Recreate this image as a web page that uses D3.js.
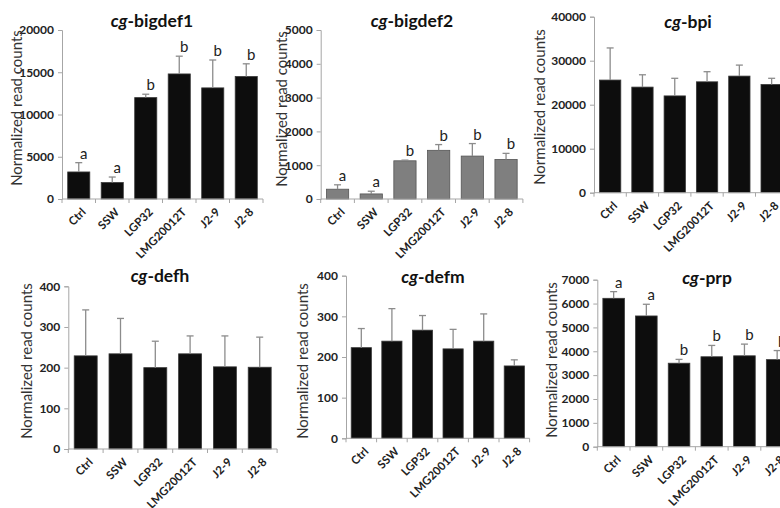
<!DOCTYPE html>
<html><head><meta charset="utf-8">
<script src="https://cdn.jsdelivr.net/npm/d3@7"></script>
<style>
html,body{margin:0;padding:0;background:#fff;}
svg{display:block;}
text{font-family:Lato,"Open Sans",sans-serif;}
</style></head>
<body>
<svg id="chart" width="780" height="508"></svg>
<script>
// ---- data ----
const categories = ["Ctrl","SSW","LGP32","LMG20012T","J2-9","J2-8"];

const bigdef1Values = [3200, 1950, 12000, 14800, 13150, 14500];
const bigdef1Errors = [1100, 650, 400, 2100, 3300, 1500];
const bigdef1Letters = ["a","a","b","b","b","b"];
const bigdef1Ticks = [0, 5000, 10000, 15000, 20000];

const bigdef2Values = [290, 150, 1130, 1440, 1270, 1170];
const bigdef2Errors = [130, 80, 20, 170, 370, 180];
const bigdef2Letters = ["a","a","b","b","b","b"];
const bigdef2Ticks = [0, 1000, 2000, 3000, 4000, 5000];

const bpiValues = [25600, 24000, 22000, 25200, 26500, 24600];
const bpiErrors = [7300, 2800, 4000, 2300, 2500, 1400];
const bpiTicks = [0, 10000, 20000, 30000, 40000];

const defhValues = [229, 234, 200, 234, 202, 201];
const defhErrors = [113, 87, 65, 44, 76, 74];
const defhTicks = [0, 100, 200, 300, 400];

const defmValues = [223, 239, 266, 220, 239, 178];
const defmErrors = [47, 80, 36, 48, 67, 15];
const defmTicks = [0, 100, 200, 300, 400];

const prpValues = [6220, 5480, 3500, 3770, 3810, 3650];
const prpErrors = [280, 490, 160, 475, 490, 380];
const prpLetters = ["a","a","b","b","b","b"];
const prpTicks = [0, 1000, 2000, 3000, 4000, 5000, 6000, 7000];

const yTitle = "Normalized read counts";

// ---- panels (layout) ----
const panels = [
  {gene:"bigdef1", values:bigdef1Values, errors:bigdef1Errors, letters:bigdef1Letters, ticks:bigdef1Ticks,
   ax:62, step:33.5, y0:199, y1:30, fill:"#0d0d0d", stroke:"#3a3a3a", tx:152, ty:26.5, ytx:17, yty:108},
  {gene:"bigdef2", values:bigdef2Values, errors:bigdef2Errors, letters:bigdef2Letters, ticks:bigdef2Ticks,
   ax:320.7, step:33.7, y0:199, y1:30, fill:"#7f7f7f", stroke:"#555", tx:412, ty:26.5, ytx:282, yty:109},
  {gene:"bpi", values:bpiValues, errors:bpiErrors, letters:null, ticks:bpiTicks,
   ax:594, step:32.3, y0:192.7, y1:16.7, fill:"#0d0d0d", stroke:"#3a3a3a", tx:688, ty:28.3, ytx:540, yty:107},
  {gene:"defh", values:defhValues, errors:defhErrors, letters:null, ticks:defhTicks,
   ax:68.3, step:34.8, y0:449, y1:286.3, fill:"#0d0d0d", stroke:"#3a3a3a", tx:160, ty:282.3, ytx:27, yty:361},
  {gene:"defm", values:defmValues, errors:defmErrors, letters:null, ticks:defmTicks,
   ax:346, step:30.6, y0:438.3, y1:275.7, fill:"#0d0d0d", stroke:"#3a3a3a", tx:433, ty:283.3, ytx:303, yty:361},
  {gene:"prp", values:prpValues, errors:prpErrors, letters:prpLetters, ticks:prpTicks,
   ax:597.3, step:32.7, y0:446.7, y1:279.7, fill:"#0d0d0d", stroke:"#3a3a3a", tx:707, ty:284, ytx:552, yty:360}
];

const svg = d3.select("#chart");
const axisColor = "#a6a6a6";
const errColor = "#8c8c8c";

panels.forEach(p => {
  const g = svg.append("g");
  const x = d3.scaleBand().domain(categories)
    .range([p.ax, p.ax + p.step * categories.length])
    .paddingInner(0.34).paddingOuter(0.17);
  const y = d3.scaleLinear().domain([0, d3.max(p.ticks)]).range([p.y0, p.y1]);

  // y axis
  const ya = g.append("g").attr("transform", `translate(${p.ax},0)`)
    .call(d3.axisLeft(y).tickValues(p.ticks).tickSize(4).tickPadding(4).tickFormat(d3.format("d")));
  ya.select(".domain").attr("stroke", axisColor);
  ya.selectAll(".tick line").attr("stroke", axisColor);
  ya.selectAll(".tick text").attr("fill", "#222").style("font-size", "12px").style("font-weight", "700")
    .style("font-family", "Lato, sans-serif");

  // bars
  g.selectAll("rect.bar").data(p.values).enter().append("rect")
    .attr("class", "bar")
    .attr("x", (d, i) => x(categories[i]))
    .attr("width", x.bandwidth())
    .attr("y", d => y(d))
    .attr("height", d => p.y0 - y(d))
    .attr("fill", p.fill).attr("stroke", p.stroke).attr("stroke-width", 0.8);

  // error bars (upper only)
  const eb = g.selectAll("g.err").data(p.values).enter().append("g").attr("class", "err");
  eb.append("line")
    .attr("x1", (d, i) => x(categories[i]) + x.bandwidth() / 2)
    .attr("x2", (d, i) => x(categories[i]) + x.bandwidth() / 2)
    .attr("y1", d => y(d))
    .attr("y2", (d, i) => y(d + p.errors[i]))
    .attr("stroke", errColor).attr("stroke-width", 1.3);
  eb.append("line")
    .attr("x1", (d, i) => x(categories[i]) + x.bandwidth() / 2 - 3.5)
    .attr("x2", (d, i) => x(categories[i]) + x.bandwidth() / 2 + 3.5)
    .attr("y1", (d, i) => y(d + p.errors[i]))
    .attr("y2", (d, i) => y(d + p.errors[i]))
    .attr("stroke", errColor).attr("stroke-width", 1.3);

  // significance letters
  if (p.letters) {
    g.selectAll("text.sig").data(p.values).enter().append("text")
      .attr("class", "sig")
      .attr("x", (d, i) => x(categories[i]) + x.bandwidth() / 2 + 5)
      .attr("y", (d, i) => y(d + p.errors[i]) - 4)
      .attr("text-anchor", "middle")
      .attr("fill", "#222")
      .style("font-size", "15px")
      .text((d, i) => p.letters[i]);
  }

  // x axis: line + separator ticks
  const xEnd = p.ax + p.step * categories.length;
  g.append("line").attr("x1", p.ax).attr("x2", xEnd).attr("y1", p.y0).attr("y2", p.y0)
    .attr("stroke", axisColor).attr("stroke-width", 1);
  g.selectAll("line.sep").data(d3.range(categories.length + 1)).enter().append("line")
    .attr("class", "sep")
    .attr("x1", i => p.ax + i * x.step()).attr("x2", i => p.ax + i * x.step())
    .attr("y1", p.y0).attr("y2", p.y0 + 4)
    .attr("stroke", axisColor);

  // x tick labels
  const xa = g.append("g").attr("transform", `translate(0,${p.y0})`)
    .call(d3.axisBottom(x).tickSize(0).tickPadding(0));
  xa.select(".domain").remove();
  xa.selectAll(".tick text")
    .attr("text-anchor", "end")
    .attr("transform", "translate(5,11) rotate(-45)")
    .attr("dy", "0.35em")
    .attr("y", 0)
    .attr("fill", "#222")
    .style("font-size", "11.5px").style("font-weight", "700")
    .style("font-family", "Lato, sans-serif");

  // title
  const t = g.append("text").attr("x", p.tx).attr("y", p.ty).attr("text-anchor", "middle")
    .attr("fill", "#111").style("font-size", "17.5px").style("font-weight", "700");
  t.append("tspan").style("font-style", "italic").text("cg");
  t.append("tspan").text("-" + p.gene);

  // y title
  g.append("text")
    .attr("transform", `translate(${p.ytx},${p.yty}) rotate(-90)`)
    .attr("text-anchor", "middle").attr("dy", "0.35em")
    .attr("fill", "#333").style("font-size", "15px")
    .text(yTitle);
});
</script>
</body></html>
